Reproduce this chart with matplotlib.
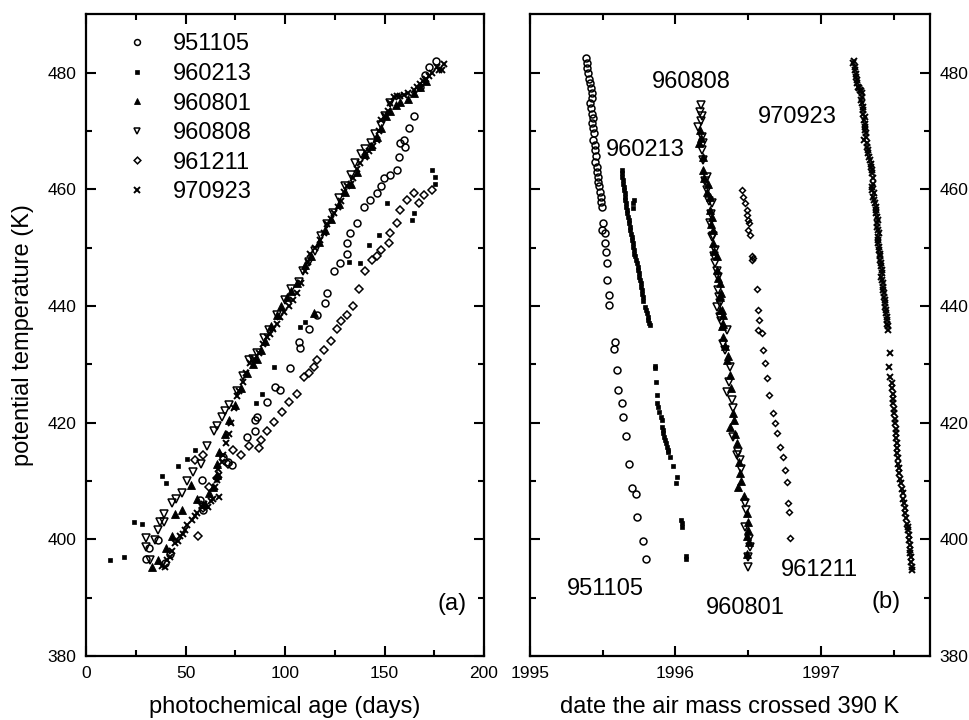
import matplotlib
matplotlib.use("Agg")
import matplotlib.pyplot as plt
from matplotlib.ticker import FixedLocator, FormatStrFormatter

plt.rcParams['font.family'] = ['Liberation Sans', 'DejaVu Sans']

# ---------------- data: panel (a) photochemical age (days) vs potential temperature (K)
age_951105 = [30.2, 31.5, 36.1, 39.8, 42.0, 57.3, 58.6, 58.2, 68.6, 71.6, 73.3, 80.9, 85.0, 85.0, 85.9,
              90.9, 95.1, 97.6, 102.7, 106.9, 107.7, 112.0, 116.0, 120.2, 121.0, 124.5, 127.8, 131.2, 131.2,
              132.9, 136.2, 139.6, 142.9, 146.3, 148.0, 149.6, 153.0, 156.3, 157.2, 160.5, 158.0, 159.7,
              162.2, 164.8, 168.0, 170.6, 172.5, 176.0]
tha_951105 = [396.7, 398.5, 399.9, 395.9, 397.5, 406.8, 405.1, 410.2, 414.2, 413.3, 412.7, 417.6, 418.5, 420.5, 421.0,
              423.6, 426.2, 425.6, 429.3, 433.9, 432.8, 436.0, 438.5, 440.5, 442.2, 446.0, 447.3, 449.0, 450.8,
              452.5, 454.2, 457.0, 458.2, 459.3, 460.5, 461.9, 462.5, 463.3, 465.6, 467.3, 467.9, 468.5,
              470.5, 472.5, 477.5, 479.6, 481.0, 482.0]

age_960213 = [12.1, 19.3, 24.3, 28.3, 38.1, 40.1, 46.1, 50.7, 54.9, 85.6, 88.4, 94.3, 107.7, 110.2,
              132.0, 137.9, 142.1, 147.1, 151.3, 164.0, 164.8, 174.0, 175.6, 175.6]
tha_960213 = [396.5, 397.0, 403.0, 402.7, 410.9, 409.6, 412.6, 413.7, 415.3, 423.3, 425.0, 429.6, 436.4, 437.3,
              447.6, 447.3, 450.5, 452.2, 457.6, 454.7, 456.0, 463.3, 462.2, 461.0]

age_960801 = [33.1, 36.0, 40.0, 43.1, 44.8, 48.0, 52.8, 56.0, 60.0, 62.0, 64.0, 66.0, 66.0, 67.0, 70.0,
              72.0, 75.0, 78.0, 81.0, 84.0, 86.0, 88.0, 90.0, 93.0, 96.0, 98.0, 101.0, 103.0, 106.0,
              110.0, 113.0, 114.4, 117.0, 120.0, 123.0, 127.0, 130.0, 133.0, 136.0, 140.0, 143.0, 146.0,
              148.0, 151.0, 153.0, 156.0, 158.0, 162.0, 165.0, 168.0, 171.0]
tha_960801 = [395.3, 396.5, 398.5, 400.6, 404.3, 405.0, 409.4, 407.0, 406.0, 408.0, 409.0, 411.0, 413.0, 415.0, 418.0,
              420.5, 423.0, 426.0, 428.5, 430.0, 431.0, 432.5, 434.0, 436.5, 438.5, 440.0, 441.5, 442.5, 444.0,
              447.0, 448.5, 438.8, 451.0, 453.0, 455.0, 457.5, 459.5, 461.0, 463.0, 466.0, 467.5, 469.0,
              470.5, 472.5, 473.5, 474.5, 475.0, 475.5, 476.5, 477.5, 478.5]

age_960808 = [30.2, 30.2, 32.0, 34.7, 36.1, 37.0, 39.1, 39.3, 43.1, 45.0, 48.0, 51.0, 54.0, 58.0, 61.0,
              64.1, 66.0, 68.3, 70.0, 72.0, 76.0, 79.0, 81.7, 84.0, 86.0, 89.2, 92.0, 96.0, 100.0, 103.0,
              106.9, 109.0, 112.0, 115.0, 118.0, 121.0, 124.0, 127.0, 130.0, 133.0, 135.4, 138.0, 140.0,
              143.0, 145.0, 148.0, 150.0, 153.0]
tha_960808 = [398.7, 400.3, 396.5, 399.9, 401.6, 403.0, 402.9, 404.3, 406.2, 407.0, 408.0, 410.0, 411.6, 413.0, 416.0,
              418.5, 419.5, 421.0, 422.0, 423.0, 425.5, 428.0, 430.7, 431.0, 432.0, 434.5, 435.9, 438.5, 441.0, 443.0,
              444.2, 446.0, 447.5, 449.5, 452.0, 454.0, 456.0, 458.5, 460.5, 462.5, 464.5, 466.0, 467.0,
              468.0, 469.5, 471.0, 472.5, 474.8]

age_961211 = [56.2, 59.0, 55.0, 59.0, 62.0, 66.0, 71.3, 73.8, 78.0, 82.0, 86.7, 88.0, 90.9, 94.3, 98.5,
              102.0, 106.0, 109.4, 112.0, 114.4, 116.1, 119.4, 123.0, 126.0, 128.0, 131.0, 134.0, 137.0, 140.0,
              143.8, 146.3, 148.0, 152.1, 153.0, 156.3, 158.0, 161.4, 164.7, 167.2, 170.0, 174.0]
tha_961211 = [400.5, 405.3, 413.6, 414.5, 409.0, 410.5, 413.0, 415.3, 414.5, 416.0, 415.6, 417.0, 418.5, 420.2, 421.9,
              423.5, 425.0, 427.9, 428.5, 429.6, 430.7, 432.5, 434.0, 436.0, 437.5, 438.5, 440.0, 443.0, 446.0,
              447.9, 448.5, 449.6, 450.8, 452.5, 454.2, 456.5, 458.2, 459.3, 457.6, 459.0, 459.9]

age_970923 = [38.0, 39.8, 40.5, 42.0, 43.0, 44.8, 46.0, 47.0, 48.5, 49.8, 51.0, 53.2, 55.0, 56.0, 58.2, 59.5,
              61.5, 63.0, 64.0, 65.0, 66.6, 65.8, 66.5, 68.3, 67.0, 69.0, 70.5, 72.0, 73.0, 74.5, 75.8, 77.0,
              79.0, 80.5, 82.5, 84.5, 87.0, 89.0, 90.9, 92.5, 94.0, 96.0, 97.6, 99.5, 102.0, 104.0, 106.0,
              108.0, 110.0, 111.5, 112.7, 115.0, 117.8, 119.5, 121.0, 123.0, 124.5, 126.5, 128.0, 129.5,
              131.2, 133.0, 134.0, 136.0, 137.9, 140.0, 142.0, 144.0, 146.3, 147.0, 148.0, 150.0, 152.0,
              153.0, 154.7, 156.5, 158.0, 160.0, 162.0, 164.8, 166.5, 168.0, 169.5, 171.0, 172.5, 174.0,
              176.5, 177.5, 179.0, 180.0]
tha_970923 = [395.5, 395.3, 396.5, 397.0, 398.0, 399.3, 399.8, 400.5, 401.0, 401.6, 402.5, 403.3, 404.0, 404.5, 405.6, 406.0,
              405.6, 406.5, 407.0, 409.0, 407.3, 410.2, 412.0, 413.3, 411.0, 414.5, 416.5, 418.0, 420.0, 422.5, 424.5, 425.5,
              427.0, 428.5, 430.2, 431.0, 432.0, 433.5, 434.7, 435.2, 436.0, 437.0, 438.2, 439.0, 440.0, 441.0, 442.2,
              444.0, 446.0, 447.5, 449.0, 450.0, 451.3, 452.5, 454.0, 455.0, 455.9, 457.0, 458.0, 459.5,
              460.5, 461.0, 462.0, 463.5, 464.5, 465.5, 466.5, 467.5, 468.5, 470.0, 471.9, 472.5, 473.5,
              474.8, 475.9, 476.0, 476.0, 476.2, 476.5, 477.0, 477.5, 478.0, 478.5, 479.0, 479.5, 480.0,
              481.0, 480.5, 480.5, 481.5]

# ---------------- data: panel (b) date the air mass crossed 390 K vs potential temperature (K)
date_951105 = [1995.385, 1995.390, 1995.394, 1995.401, 1995.408, 1995.413, 1995.419, 1995.424, 1995.426, 1995.413,
               1995.417, 1995.424, 1995.431, 1995.426, 1995.435, 1995.440, 1995.435, 1995.445, 1995.449, 1995.454,
               1995.447, 1995.459, 1995.463, 1995.470, 1995.468, 1995.476, 1995.481, 1995.486, 1995.490, 1995.495,
               1995.504, 1995.493, 1995.516, 1995.516, 1995.523, 1995.532, 1995.532, 1995.545, 1995.545,
               1995.584, 1995.578, 1995.596, 1995.605, 1995.630, 1995.637, 1995.658, 1995.683, 1995.699,
               1995.727, 1995.734, 1995.779, 1995.797]
thb_951105 = [482.5, 481.6, 480.8, 479.9, 479.0, 478.2, 477.3, 476.5, 475.6, 474.8,
              473.9, 473.0, 472.2, 471.3, 470.5, 469.6, 468.5, 467.6, 466.7, 465.7,
              464.7, 463.9, 463.0, 462.2, 461.3, 460.5, 459.6, 458.7, 457.9, 457.0,
              454.2, 453.0, 452.5, 450.8, 449.3, 447.3, 444.5, 441.9, 440.2,
              433.9, 432.6, 429.0, 425.6, 423.4, 421.0, 417.7, 413.0, 408.8,
              407.8, 403.9, 399.8, 396.6]

date_960213 = [1995.630, 1995.632, 1995.635, 1995.638, 1995.642, 1995.644, 1995.646, 1995.650, 1995.653, 1995.656,
               1995.660, 1995.662, 1995.710, 1995.713, 1995.705, 1995.665, 1995.668, 1995.676, 1995.680, 1995.683,
               1995.686, 1995.688, 1995.694, 1995.699, 1995.702, 1995.706, 1995.710, 1995.715, 1995.718, 1995.722,
               1995.728, 1995.734, 1995.740, 1995.745, 1995.748, 1995.752, 1995.756, 1995.761, 1995.765, 1995.768,
               1995.772, 1995.775, 1995.780, 1995.791, 1995.796, 1995.802, 1995.808, 1995.813, 1995.819, 1995.825,
               1995.856, 1995.859, 1995.866, 1995.871, 1995.875, 1995.880, 1995.889, 1995.900, 1995.905,
               1995.910, 1995.912, 1995.916, 1995.922, 1995.928, 1995.934, 1995.940, 1995.946, 1995.951, 1995.963,
               1995.985, 1996.009, 1996.004, 1996.040, 1996.043, 1996.046, 1996.070, 1996.073]
thb_960213 = [463.3, 462.8, 462.2, 461.6, 461.0, 460.4, 459.9, 459.3, 458.7, 458.1,
              457.6, 457.0, 457.6, 458.2, 456.8, 456.5, 455.9, 455.3, 454.7, 454.2,
              453.6, 453.0, 452.4, 451.9, 451.3, 450.8, 450.2, 449.6, 449.0, 448.5,
              447.9, 447.3, 446.7, 446.2, 445.6, 445.0, 444.4, 443.9, 443.3, 442.7,
              442.1, 441.6, 440.9, 439.9, 439.4, 438.8, 438.2, 437.6, 437.1, 436.7,
              429.8, 429.3, 427.0, 424.7, 423.3, 422.7, 421.9, 420.9, 420.5,
              419.3, 418.8, 418.2, 417.6, 417.0, 416.5, 415.9, 415.4, 415.0, 414.2,
              412.5, 410.7, 409.6, 403.4, 402.8, 402.2, 397.2, 396.6]

date_960801 = [1996.169, 1996.175, 1996.164, 1996.187, 1996.192, 1996.198, 1996.226, 1996.220, 1996.238, 1996.238,
               1996.244, 1996.249, 1996.260, 1996.266, 1996.260, 1996.284, 1996.284, 1996.290, 1996.306, 1996.312,
               1996.306, 1996.318, 1996.329, 1996.306, 1996.329, 1996.318, 1996.329, 1996.340, 1996.360, 1996.352,
               1996.375, 1996.382, 1996.398, 1996.405, 1996.412, 1996.375, 1996.421, 1996.438, 1996.444, 1996.452,
               1996.432, 1996.470, 1996.490, 1996.496, 1996.501, 1996.490, 1996.507, 1996.495]
thb_960801 = [470.2, 468.8, 467.9, 465.6, 463.3, 462.0, 461.0, 459.5, 458.7, 456.5,
              454.0, 455.3, 453.0, 449.5, 450.8, 448.5, 446.2, 444.8, 443.9, 442.3,
              441.6, 439.3, 437.0, 439.3, 438.5, 436.5, 434.7, 433.2, 431.5, 430.7,
              428.2, 426.0, 421.6, 420.5, 418.0, 419.3, 416.5, 413.2, 411.3, 410.0,
              409.0, 407.5, 404.5, 403.0, 401.6, 400.5, 399.5, 397.5]

date_960808 = [1996.176, 1996.169, 1996.173, 1996.180, 1996.157, 1996.186, 1996.180, 1996.190, 1996.180, 1996.205,
               1996.215, 1996.228, 1996.215, 1996.249, 1996.244, 1996.238, 1996.258, 1996.249, 1996.272, 1996.268,
               1996.272, 1996.288, 1996.295, 1996.295, 1996.300, 1996.306, 1996.306, 1996.315, 1996.284, 1996.352,
               1996.330, 1996.341, 1996.375, 1996.365, 1996.352, 1996.387, 1996.395, 1996.398, 1996.420, 1996.432,
               1996.444, 1996.452, 1996.478, 1996.486, 1996.478, 1996.508, 1996.513, 1996.501, 1996.501]
thb_960808 = [474.5, 473.3, 471.8, 472.5, 470.7, 468.0, 469.0, 465.0, 466.7, 461.5,
              462.2, 458.0, 459.9, 457.6, 455.8, 454.2, 452.0, 451.9, 449.6, 448.5,
              447.3, 446.0, 445.0, 442.7, 441.5, 440.5, 438.2, 437.5, 439.9, 435.9,
              433.5, 432.5, 429.6, 427.0, 425.3, 423.9, 422.5, 417.6, 414.5, 415.0,
              413.6, 412.0, 406.2, 405.0, 402.2, 400.0, 398.7, 397.0, 395.3]

date_961211 = [1996.455, 1996.467, 1996.478, 1996.490, 1996.494, 1996.501, 1996.508, 1996.501, 1996.513, 1996.524,
               1996.524, 1996.535, 1996.559, 1996.570, 1996.576, 1996.570, 1996.593, 1996.604, 1996.616, 1996.627,
               1996.645, 1996.673, 1996.684, 1996.696, 1996.718, 1996.741, 1996.753, 1996.765, 1996.776, 1996.781,
               1996.788]
thb_961211 = [459.9, 458.7, 457.7, 456.5, 455.6, 454.7, 454.2, 453.0, 452.2, 448.5,
              447.9, 448.2, 443.0, 439.3, 437.6, 435.9, 435.3, 432.5, 430.2, 427.6,
              424.7, 421.6, 419.9, 418.2, 415.9, 414.2, 411.9, 409.9, 406.2, 404.7,
              400.3]

date_970923 = [1997.223, 1997.226, 1997.232, 1997.234, 1997.238, 1997.241, 1997.246, 1997.250, 1997.257, 1997.262,
               1997.269, 1997.276, 1997.281, 1997.280, 1997.274, 1997.284, 1997.287, 1997.290, 1997.292, 1997.300,
               1997.296, 1997.306, 1997.303, 1997.300, 1997.310, 1997.296, 1997.312, 1997.315, 1997.318, 1997.326,
               1997.322, 1997.338, 1997.332, 1997.342, 1997.344, 1997.349, 1997.352, 1997.360, 1997.355, 1997.349,
               1997.354, 1997.360, 1997.366, 1997.372, 1997.368, 1997.379, 1997.376, 1997.384, 1997.382, 1997.388,
               1997.392, 1997.395, 1997.386, 1997.391, 1997.398, 1997.395, 1997.393, 1997.402, 1997.400, 1997.406,
               1997.408, 1997.411, 1997.404, 1997.418, 1997.416, 1997.411, 1997.420, 1997.418, 1997.425, 1997.428,
               1997.429, 1997.432, 1997.434, 1997.438, 1997.441, 1997.444, 1997.448, 1997.450, 1997.452, 1997.455,
               1997.457, 1997.460, 1997.464, 1997.475, 1997.470, 1997.472, 1997.487, 1997.492, 1997.494, 1997.496,
               1997.498, 1997.501, 1997.503, 1997.506, 1997.510, 1997.513, 1997.516, 1997.519, 1997.521, 1997.523,
               1997.525, 1997.529, 1997.532, 1997.536, 1997.539, 1997.544, 1997.549, 1997.555, 1997.562, 1997.566,
               1997.571, 1997.575, 1997.578, 1997.584, 1997.590, 1997.596, 1997.601, 1997.604, 1997.608, 1997.611,
               1997.613, 1997.615, 1997.617, 1997.620, 1997.624, 1997.626]
thb_970923 = [481.6, 482.0, 481.0, 480.5, 479.8, 479.3, 478.2, 478.8, 477.6, 477.3,
              477.0, 476.8, 476.5, 475.8, 475.3, 474.8, 474.2, 473.6, 473.0, 472.4,
              471.9, 471.2, 470.7, 470.2, 469.6, 468.5, 469.0, 467.3, 467.9, 466.2,
              466.7, 465.0, 465.6, 463.9, 464.4, 462.8, 463.3, 461.0, 461.9, 459.9,
              460.4, 458.7, 459.3, 457.6, 458.1, 456.5, 457.0, 455.3, 455.9, 454.2,
              454.7, 453.0, 453.6, 451.9, 452.5, 450.8, 451.3, 449.6, 450.2, 448.5,
              449.0, 447.3, 447.9, 446.2, 446.8, 445.0, 445.6, 444.4, 443.9, 443.3,
              442.7, 442.2, 441.6, 441.0, 440.5, 439.9, 439.3, 438.8, 438.2, 437.6,
              437.0, 436.5, 435.9, 431.9, 429.6, 427.8, 426.8, 425.9, 425.0, 424.1,
              423.3, 422.4, 421.6, 420.7, 419.9, 419.0, 418.2, 417.3, 416.5, 415.6,
              414.8, 413.9, 413.0, 412.2, 411.3, 410.4, 409.6, 408.7, 407.9, 407.0,
              406.2, 405.3, 404.5, 403.6, 402.7, 402.2, 401.6, 400.7, 399.9, 399.0,
              398.2, 397.6, 397.0, 396.2, 395.3, 394.8]

flights = ['951105', '960213', '960801', '960808', '961211', '970923']

# label positions in panel (b): (date, theta)
lab_b_date = [1995.52, 1995.79, 1996.48, 1996.11, 1996.99, 1996.84]
lab_b_theta = [391.5, 466.7, 388.3, 478.4, 394.8, 472.4]

styles = {
    '951105': dict(marker='o', ms=5.0, mfc='none', mec='black', mew=1.1),
    '960213': dict(marker='s', ms=3.3, mfc='black', mec='black', mew=0.5),
    '960801': dict(marker='^', ms=5.4, mfc='black', mec='black', mew=0.6),
    '960808': dict(marker='v', ms=5.4, mfc='none', mec='black', mew=1.1),
    '961211': dict(marker='D', ms=4.0, mfc='none', mec='black', mew=1.1),
    '970923': dict(marker='x', ms=5.0, mfc='black', mec='black', mew=1.4),
}
# in panel (b) the 961211 symbols are drawn smaller
styles_b = dict(styles)
styles_b['961211'] = dict(marker='D', ms=3.0, mfc='none', mec='black', mew=1.1)

data_a = {
    '951105': (age_951105, tha_951105), '960213': (age_960213, tha_960213),
    '960801': (age_960801, tha_960801), '960808': (age_960808, tha_960808),
    '961211': (age_961211, tha_961211), '970923': (age_970923, tha_970923),
}
data_b = {
    '951105': (date_951105, thb_951105), '960213': (date_960213, thb_960213),
    '960801': (date_960801, thb_960801), '960808': (date_960808, thb_960808),
    '961211': (date_961211, thb_961211), '970923': (date_970923, thb_970923),
}

W, H = 969, 720
fig = plt.figure(figsize=(W / 100, H / 100), dpi=100)
bottom = (H - 656) / H
height = (656 - 14.4) / H
axa = fig.add_axes([86 / W, bottom, 398 / W, height])
axb = fig.add_axes([530 / W, bottom, 400 / W, height])

tick_family = ['Liberation Sans Narrow', 'Liberation Sans', 'DejaVu Sans']
tick_size = 12.5

for ax in (axa, axb):
    for sp in ax.spines.values():
        sp.set_linewidth(1.6)
    ax.set_ylim(380, 490)
    ax.yaxis.set_major_locator(FixedLocator([380, 400, 420, 440, 460, 480]))
    ax.yaxis.set_minor_locator(FixedLocator([390, 410, 430, 450, 470]))
    ax.tick_params(which='both', direction='in', top=True, bottom=True, left=True, right=True,
                   width=1.5, colors='black')
    ax.tick_params(which='major', length=7)
    ax.tick_params(which='minor', length=4)

for f in flights:
    x, y = data_a[f]
    axa.plot(x, y, linestyle='none', label=f, **styles[f])
    x, y = data_b[f]
    axb.plot(x, y, linestyle='none', **styles_b[f])

# panel (a)
axa.set_xlim(0, 200)
axa.xaxis.set_major_locator(FixedLocator([0, 50, 100, 150, 200]))
axa.xaxis.set_minor_locator(FixedLocator([25, 75, 125, 175]))
axa.tick_params(axis='both', which='major', labelleft=True, labelright=False, pad=7)
for lab in axa.get_xticklabels() + axa.get_yticklabels():
    lab.set_fontfamily(tick_family)
    lab.set_fontsize(tick_size)
axa.set_xlabel('photochemical age (days)', fontsize=17, labelpad=11)
axa.set_ylabel('potential temperature (K)', fontsize=17, labelpad=10)
axa.text(184.2, 388.9, '(a)', fontsize=17, ha='center', va='center')
axa.legend(loc='upper left', bbox_to_anchor=(0.07, 0.985), frameon=False, fontsize=17,
           handletextpad=0.9, labelspacing=0.32, handlelength=1.2, borderaxespad=0.0,
           markerscale=0.85)

# panel (b)
axb.set_xlim(1995, 1997.75)
axb.xaxis.set_major_locator(FixedLocator([1995, 1996, 1997]))
axb.xaxis.set_minor_locator(FixedLocator([1995.5, 1996.5, 1997.5]))
axb.xaxis.set_major_formatter(FormatStrFormatter('%d'))
axb.tick_params(axis='both', which='major', labelleft=False, labelright=True, pad=7)
for lab in axb.get_xticklabels() + axb.get_yticklabels():
    lab.set_fontfamily(tick_family)
    lab.set_fontsize(tick_size)
axb.set_xlabel('date the air mass crossed 390 K', fontsize=17, labelpad=11)
for f, dx, ty in zip(flights, lab_b_date, lab_b_theta):
    axb.text(dx, ty, f, fontsize=17, ha='center', va='center')
axb.text(1997.45, 389.3, '(b)', fontsize=17, ha='center', va='center')

fig.savefig('out.png', dpi=100)
